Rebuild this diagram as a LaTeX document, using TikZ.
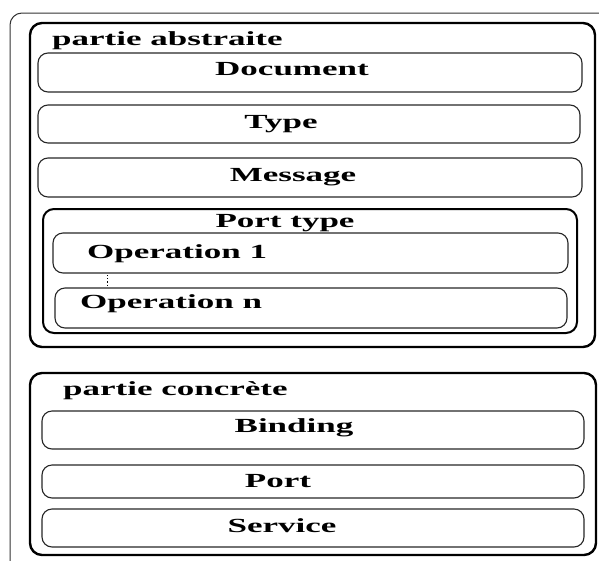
\documentclass[tikz,border=0pt]{standalone}
\usepackage{fontspec}
\usepackage{graphicx}
\setmainfont{Liberation Serif}[BoldFont={Liberation Serif Bold}]
\newcommand{\wtxt}[1]{\scalebox{1.75}[1]{#1}}
\tikzset{
  outerbox/.style={draw=black!80, line width=1pt, rounded corners=12pt},
  partbox/.style={draw=black, line width=2.4pt, rounded corners=12pt},
  ptbox/.style={draw=black, line width=2pt, rounded corners=11pt},
  itembox/.style={draw=black!85, line width=1.1pt, rounded corners=10pt},
  lbl/.style={anchor=base, inner sep=0pt, font=\bfseries\fontsize{20}{22}\selectfont},
  lbll/.style={lbl, anchor=base west}
}
\begin{document}
\begin{tikzpicture}[x=1pt,y=-1pt]
\useasboundingbox (0,0) rectangle (599,560);
\clip (0,0) rectangle (599,560);
% outer frame (continues beyond the picture)
\draw[outerbox] (10,13) rectangle (660,640);
% abstract part
\draw[partbox] (30,23) rectangle (595,347);
\node[lbll] (abs) at (52,45) {\wtxt{partie abstraite}};
\draw[itembox] (38,53) rectangle (582,92);
\node[lbl] (doc) at (292,75) {\wtxt{Document}};
\draw[itembox] (38,105) rectangle (580,143);
\node[lbl] (typ) at (281,128) {\wtxt{Type}};
\draw[itembox] (38,158) rectangle (582,197);
\node[lbl] (msg) at (293,181) {\wtxt{Message}};
% port type
\draw[ptbox] (43,209) rectangle (577,333);
\node[lbl] (pt) at (285,227) {\wtxt{Port type}};
\draw[itembox] (53,233) rectangle (568,273);
\node[lbll] (op1) at (87,258) {\wtxt{Operation 1}};
\draw[itembox] (55,288) rectangle (567,328);
\node[lbll] (opn) at (80,308) {\wtxt{Operation n}};
\coordinate (d1) at (107,275);
\coordinate (d2) at (107,287);
\draw[black, line width=1pt, dash pattern=on 1.2pt off 2pt] (d1) -- (d2);
% concrete part
\draw[partbox] (30,373) rectangle (596,555);
\node[lbll] (con) at (63,395) {\wtxt{partie concrète}};
\draw[itembox] (42,411) rectangle (584,449);
\node[lbl] (bnd) at (294,432) {\wtxt{Binding}};
\draw[itembox] (42,465) rectangle (584,498);
\node[lbl] (prt) at (278,487) {\wtxt{Port}};
\draw[itembox] (42,509) rectangle (584,547);
\node[lbl] (srv) at (282,532) {\wtxt{Service}};
\end{tikzpicture}
\end{document}
